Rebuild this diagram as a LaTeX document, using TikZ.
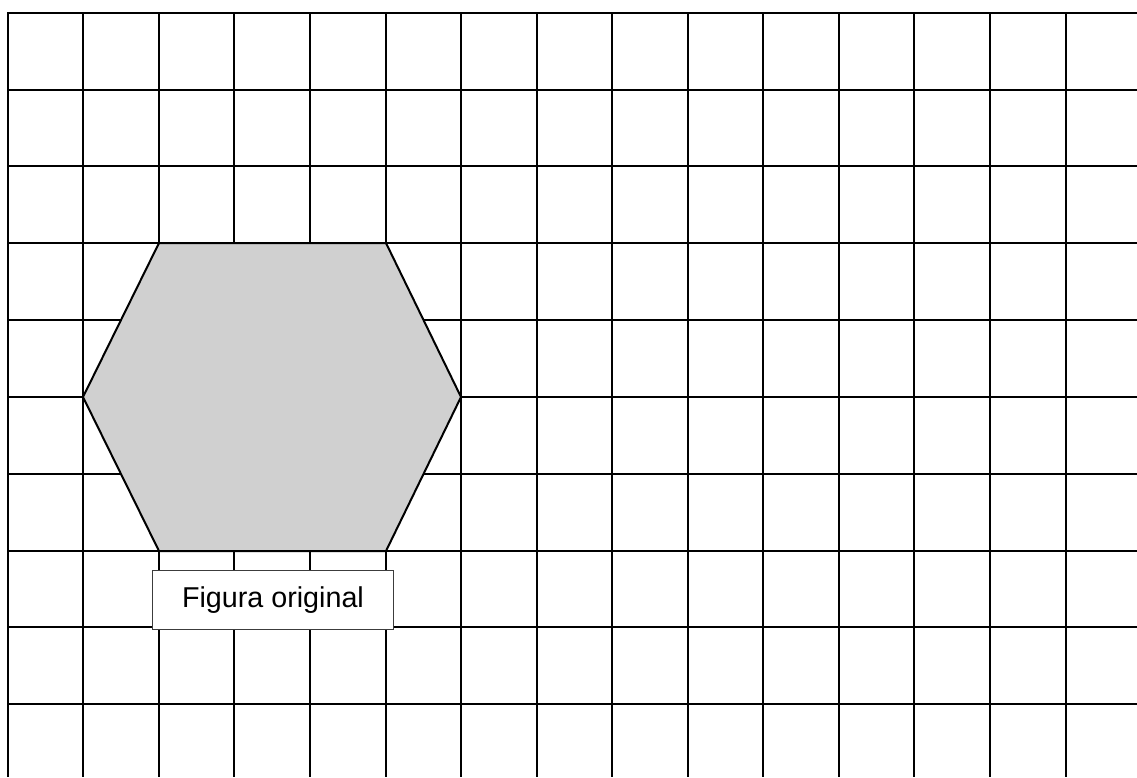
\documentclass[tikz,border=0pt]{standalone}
\usepackage{fontspec}
\setmainfont{Liberation Sans}
\definecolor{hexfill}{RGB}{208,208,208}
\definecolor{boxline}{RGB}{60,60,60}
\tikzset{
  gridline/.style={line width=2pt, black},
  hexline/.style={line width=2pt, black, fill=hexfill, line join=miter},
  labelbox/.style={draw=boxline, line width=1pt, fill=white, minimum width=240.6pt, minimum height=58.3pt, inner sep=0pt, font=\fontsize{28.7pt}{30pt}\selectfont}
}
\begin{document}
\begin{tikzpicture}[x=1pt,y=-1pt]
\useasboundingbox (0,0) rectangle (1137,777);
% vertical grid lines
\foreach \x in {8,83,159,234,310,386,461,537,612,688,763,839,914,990,1066} {
  \draw[gridline] (\x,13) -- (\x,777);
}
% horizontal grid lines
\foreach \y in {13,90,166,243,320,397,474,551,627,704} {
  \draw[gridline] (7,\y) -- (1137,\y);
}
% hexagon
\coordinate (h1) at (159,243);
\coordinate (h2) at (386,243);
\coordinate (h3) at (461,397);
\coordinate (h4) at (386,551);
\coordinate (h5) at (159,551);
\coordinate (h6) at (83,397);
\draw[hexline] (h1) -- (h2) -- (h3) -- (h4) -- (h5) -- (h6) -- cycle;
\node[labelbox] (lbl) at (273,600) {Figura original};
\end{tikzpicture}
\end{document}
